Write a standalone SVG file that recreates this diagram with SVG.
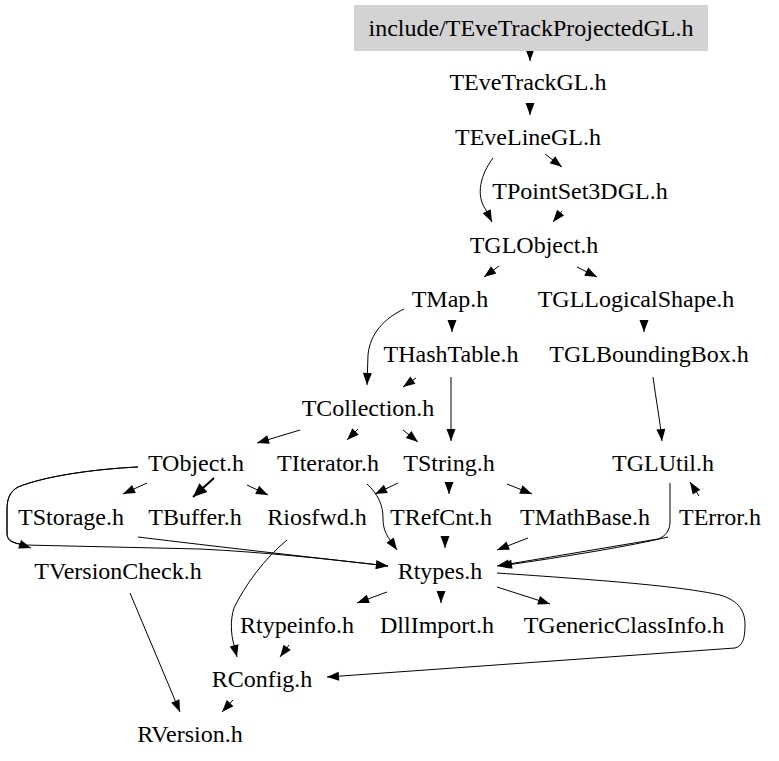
<svg xmlns="http://www.w3.org/2000/svg" width="779" height="761" viewBox="0 0 779 761">
<style>
.t text{font-family:'Liberation Serif','Times New Roman','DejaVu Serif',serif;font-size:24px;fill:#000;text-anchor:middle}
.e{fill:none;stroke:#000;stroke-width:1;marker-end:url(#ah)}
.b{fill:none;stroke:#000;stroke-width:2;marker-end:url(#ahb)}
</style>
<defs>
<marker id="ah" markerUnits="userSpaceOnUse" markerWidth="13" markerHeight="10" refX="12" refY="4.5" orient="auto" overflow="visible"><path d="M0,0 L12,4.5 L0,9 Z" fill="#000"/></marker>
<marker id="ahb" markerUnits="userSpaceOnUse" markerWidth="16" markerHeight="14" refX="14" refY="6" orient="auto" overflow="visible"><path d="M0,0 L14,6 L0,12 Z" fill="#000"/></marker>
</defs>
<rect width="779" height="761" fill="#fff"/>
<g id="edges">
<path class="e" d="M530,49 L530,61"/>
<path class="e" d="M530,103 L530,115"/>
<path class="e" d="M545,154 L562,167"/>
<path class="e" d="M493,158 C481,174 475,195 486,210 L492,222"/>
<path class="e" d="M562,211 L553,222"/>
<path class="e" d="M499,266 L484,277"/>
<path class="e" d="M577,267 L597,277"/>
<path class="e" d="M452,320 L452,332"/>
<path class="e" d="M404,309 C385,318 370,333 368,355 L367,385"/>
<path class="e" d="M644,320 L644,332"/>
<path class="e" d="M416,378 L403,387"/>
<path class="e" d="M451,377 L451,441"/>
<path class="e" d="M653,377 C656,400 660,420 662,441"/>
<path class="e" d="M300,430 L257,443"/>
<path class="e" d="M358,429 L347,440"/>
<path class="e" d="M403,430 L418,442"/>
<path class="e" d="M147,483 L123,494"/>
<path class="b" d="M214,478 L193,497"/>
<path class="e" d="M247,485 L268,495"/>
<path class="e" d="M138,467 C95,469 45,476 18,487 C9,492 7,500 7,510 L7,533 C7,540 10,542 19,544 L31,548"/>
<path class="e" d="M138,467 C95,469 45,476 18,487 C9,492 7,500 7,510 L7,533 C7,540 12,543 25,545 L200,549 C260,552 320,558 388,566"/>
<path class="e" d="M138,537 C220,547 300,556 388,566"/>
<path class="e" d="M367,484 C378,494 383,505 383,518 C383,527 385,533 390,540 L397,550"/>
<path class="e" d="M398,483 L375,494"/>
<path class="e" d="M449,482 L449,494"/>
<path class="e" d="M507,484 L532,494"/>
<path class="e" d="M699,496 L690,482"/>
<path class="e" d="M445,536 L445,548"/>
<path class="e" d="M528,538 L497,550"/>
<path class="e" d="M670,483 L670,522 C670,530 666,536 658,539 L497,566"/>
<path class="e" d="M668,537 C630,546 570,556 500,566"/>
<path class="e" d="M387,592 L357,603"/>
<path class="e" d="M441,591 L441,603"/>
<path class="e" d="M497,587 L550,604"/>
<path class="e" d="M497,573 C600,580 680,586 720,595 C740,601 745,612 745,625 C745,640 742,646 735,648 L327,677"/>
<path class="e" d="M287,540 C265,558 245,585 234,608 C230,620 231,635 234,645 L237,657"/>
<path class="e" d="M289,645 L280,657"/>
<path class="e" d="M130,593 L180,712"/>
<path class="e" d="M233,700 L222,712"/>
</g>
<g class="t" font-family="Liberation Serif, serif" font-size="24" text-anchor="middle">
<g id="n0"><rect x="354" y="5" width="354" height="46" fill="#d3d3d3"/><text x="531" y="36">include/TEveTrackProjectedGL.h</text></g>
<g id="n1"><text x="528" y="90">TEveTrackGL.h</text></g>
<g id="n2"><text x="528" y="145">TEveLineGL.h</text></g>
<g id="n3"><text x="580" y="199">TPointSet3DGL.h</text></g>
<g id="n4"><text x="534" y="253">TGLObject.h</text></g>
<g id="n5"><text x="450" y="307">TMap.h</text></g>
<g id="n6"><text x="636" y="307">TGLLogicalShape.h</text></g>
<g id="n7"><text x="451" y="362">THashTable.h</text></g>
<g id="n8"><text x="649" y="362">TGLBoundingBox.h</text></g>
<g id="n9"><text x="368" y="416">TCollection.h</text></g>
<g id="n10"><text x="196" y="471">TObject.h</text></g>
<g id="n11"><text x="328" y="471">TIterator.h</text></g>
<g id="n12"><text x="449" y="471">TString.h</text></g>
<g id="n13"><text x="663" y="471">TGLUtil.h</text></g>
<g id="n14"><text x="71" y="525">TStorage.h</text></g>
<g id="n15"><text x="195" y="525">TBuffer.h</text></g>
<g id="n16"><text x="317" y="525">Riosfwd.h</text></g>
<g id="n17"><text x="441" y="525">TRefCnt.h</text></g>
<g id="n18"><text x="585" y="525">TMathBase.h</text></g>
<g id="n19"><text x="720" y="525">TError.h</text></g>
<g id="n20"><text x="118" y="579">TVersionCheck.h</text></g>
<g id="n21"><text x="440" y="579">Rtypes.h</text></g>
<g id="n22"><text x="297" y="633">Rtypeinfo.h</text></g>
<g id="n23"><text x="437" y="633">DllImport.h</text></g>
<g id="n24"><text x="624" y="633">TGenericClassInfo.h</text></g>
<g id="n25"><text x="262" y="687">RConfig.h</text></g>
<g id="n26"><text x="190" y="742">RVersion.h</text></g>
</g>
</svg>
